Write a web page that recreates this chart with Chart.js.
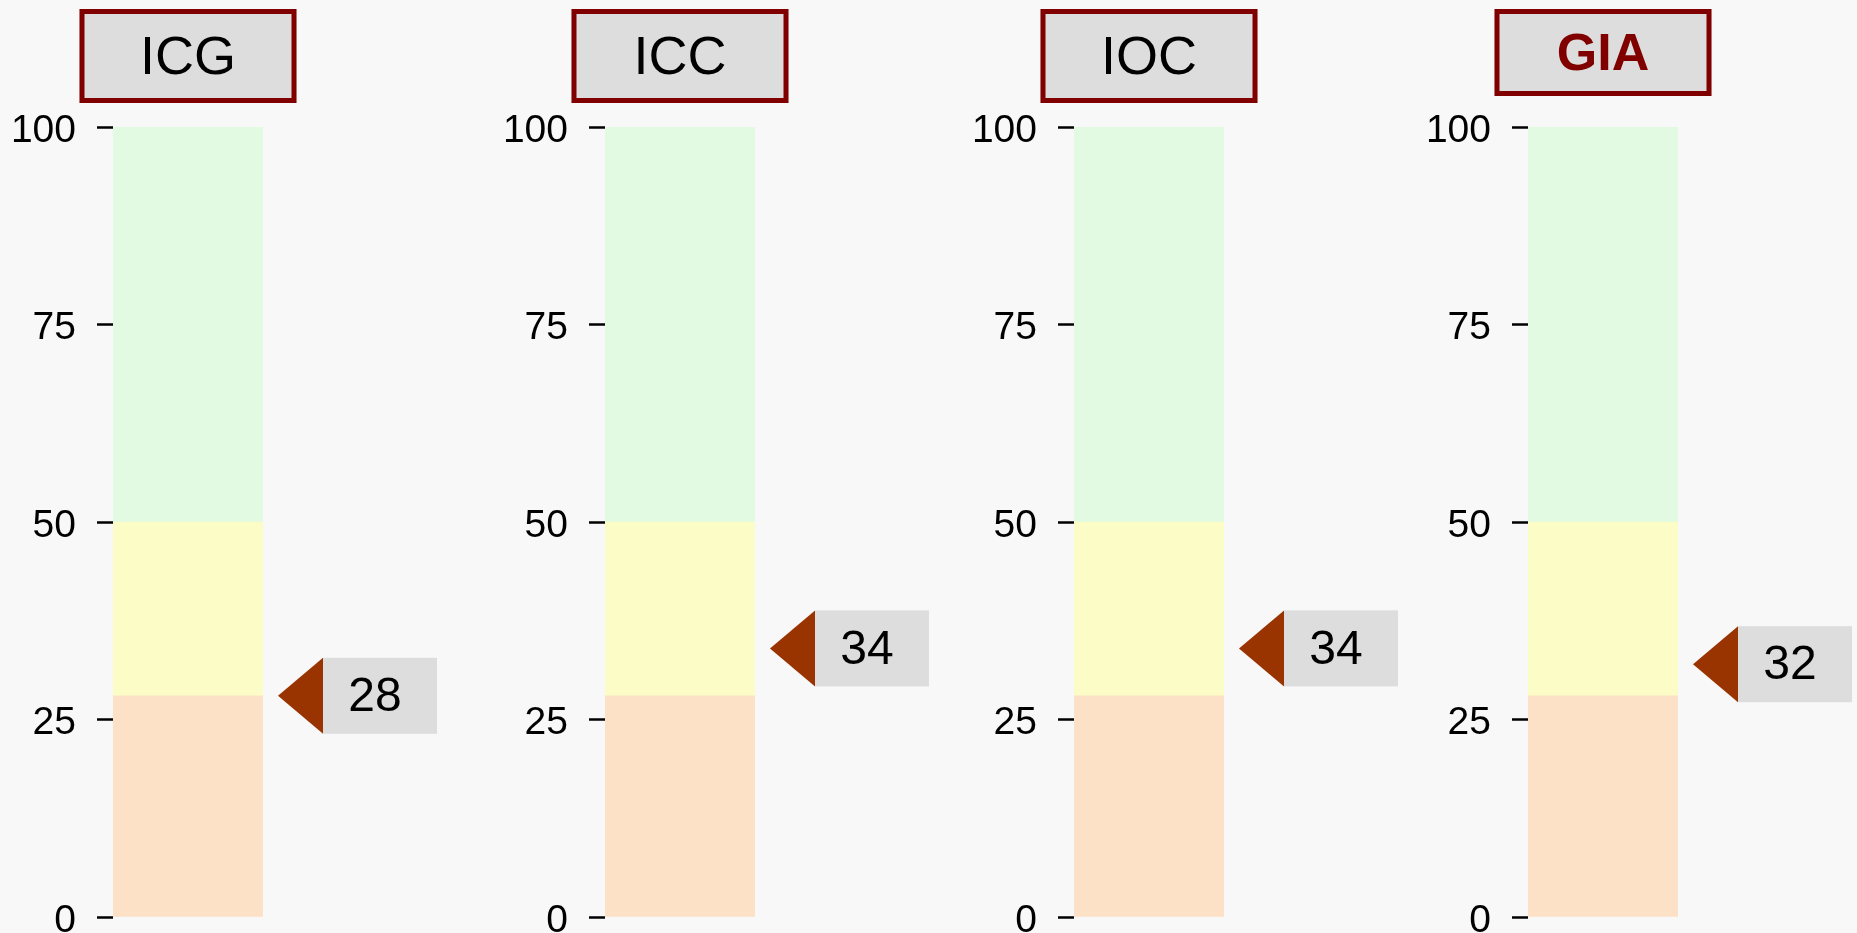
<!DOCTYPE html>
<html>
<head>
<meta charset="utf-8">
<script src="https://cdn.jsdelivr.net/npm/chart.js@4.4.0/dist/chart.umd.min.js"></script>
<style>
  html, body { margin: 0; padding: 0; background: #f8f8f8; overflow: hidden; }
  body { width: 1857px; height: 933px; position: relative; }
  canvas { position: absolute; top: 0; }
</style>
</head>
<body>
<canvas id="g0" width="464" height="933"></canvas>
<canvas id="g1" width="464" height="933"></canvas>
<canvas id="g2" width="464" height="933"></canvas>
<canvas id="g3" width="464" height="933"></canvas>
<script>
// datos de los indicadores
const indicadores = ['ICG', 'ICC', 'IOC', 'GIA']
const puntajes = [28, 34, 34, 32]
// limites de las franjas de color (bajo, medio, alto)
const franjas = ['Bajo', 'Medio', 'Alto']
const limites = [28, 50, 100]
const marcasEje = [0, 25, 50, 75, 100]

const coloresFranja = ['#fce1c6', '#fcfcc6', '#e1fae1']
const posX = [0, 492, 961, 1415]

Chart.defaults.font.family = '"Liberation Sans", Arial, sans-serif'
Chart.defaults.color = '#000'

// caja del titulo arriba de cada barra
const tituloCaja = {
  id: 'tituloCaja',
  afterDraw(chart, args, opts) {
    const c = chart.ctx
    const a = chart.chartArea
    const cx = (a.left + a.right) / 2
    const w = 217, h = opts.alto, top = 9
    c.save()
    c.fillStyle = '#dddddd'
    c.fillRect(cx - w / 2, top, w, h)
    c.strokeStyle = '#800000'
    c.lineWidth = 5
    c.strokeRect(cx - w / 2 + 2.5, top + 2.5, w - 5, h - 5)
    c.font = opts.fuente
    c.fillStyle = opts.color
    c.textAlign = 'center'
    c.textBaseline = 'middle'
    c.fillText(opts.texto, cx, top + h / 2 + 3)
    c.restore()
  }
}

// flecha con el valor
const marcador = {
  id: 'marcador',
  afterDraw(chart, args, opts) {
    const c = chart.ctx
    const y = chart.scales.y.getPixelForValue(opts.valor)
    const x0 = chart.chartArea.right + 15
    c.save()
    c.fillStyle = '#993300'
    c.beginPath()
    c.moveTo(x0, y)
    c.lineTo(x0 + 45, y - 38)
    c.lineTo(x0 + 45, y + 38)
    c.closePath()
    c.fill()
    c.fillStyle = '#dddddd'
    c.fillRect(x0 + 45, y - 38, 114, 76)
    c.fillStyle = '#000'
    c.font = '48px "Liberation Sans", Arial, sans-serif'
    c.textAlign = 'center'
    c.textBaseline = 'middle'
    c.fillText(String(opts.valor), x0 + 45 + 52, y + 2)
    c.restore()
  }
}

indicadores.forEach((nombre, i) => {
  const cv = document.getElementById('g' + i)
  cv.style.left = posX[i] + 'px'
  const esGIA = nombre === 'GIA'
  const datasets = franjas.map((f, k) => ({
    label: f,
    data: [limites[k] - (k ? limites[k - 1] : 0)],
    backgroundColor: coloresFranja[k],
    borderWidth: 0,
    barPercentage: 1,
    categoryPercentage: 1
  }))
  new Chart(cv, {
    type: 'bar',
    data: { labels: [nombre], datasets: datasets },
    options: {
      responsive: false,
      animation: false,
      layout: { padding: { top: 127, bottom: 16, left: 0, right: 201 } },
      plugins: {
        legend: { display: false },
        tooltip: { enabled: false },
        tituloCaja: {
          texto: nombre,
          alto: esGIA ? 87 : 94,
          fuente: esGIA ? 'bold 52px "Liberation Sans", Arial, sans-serif' : '54px "Liberation Sans", Arial, sans-serif',
          color: esGIA ? '#800000' : '#000'
        },
        marcador: { valor: puntajes[i] }
      },
      scales: {
        x: { display: false, stacked: true },
        y: {
          stacked: true,
          min: 0,
          max: 100,
          afterBuildTicks: s => { s.ticks = marcasEje.map(v => ({ value: v })) },
          afterFit: s => { s.width = 113; s.paddingTop = 0; s.paddingBottom = 0 },
          border: { display: false },
          grid: { drawOnChartArea: false, tickLength: 16, tickWidth: 2.5, tickColor: '#000' },
          ticks: { padding: 21, labelOffset: 4, font: { size: 39 }, color: '#000' }
        }
      }
    },
    plugins: [tituloCaja, marcador]
  })
})
</script>
</body>
</html>
